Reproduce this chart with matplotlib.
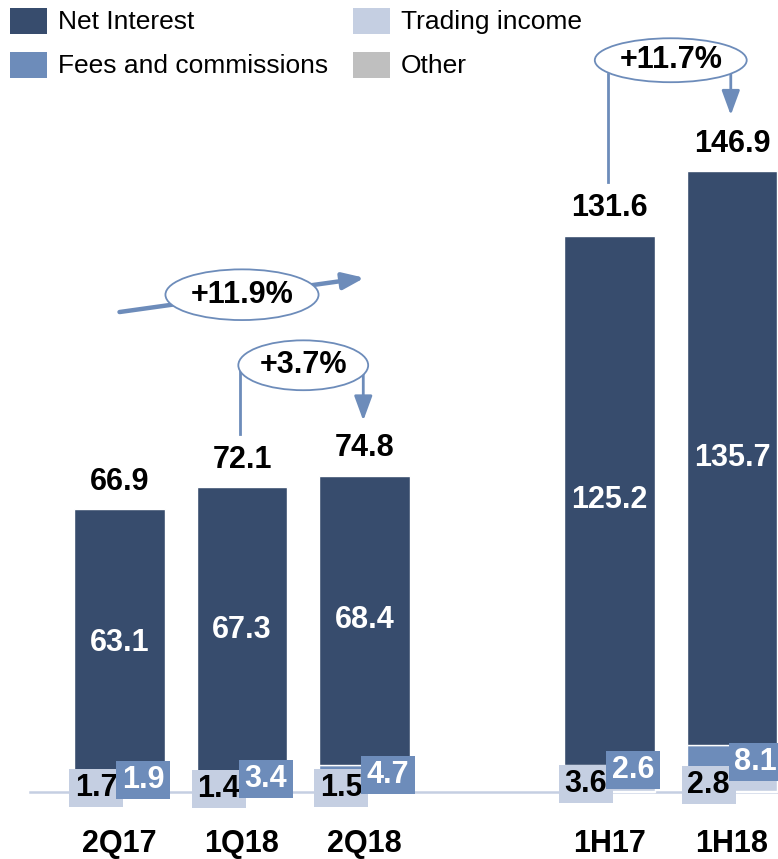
import matplotlib
matplotlib.use("Agg")
import matplotlib.pyplot as plt
from matplotlib.patches import Rectangle, Ellipse
import numpy as np

plt.rcParams['font.family'] = ['Liberation Sans', 'DejaVu Sans']

categories = ["2Q17", "1Q18", "2Q18", "1H17", "1H18"]
positions = [0, 1, 2, 4, 5]
net_interest = [63.1, 67.3, 68.4, 125.2, 135.7]
fees = [1.9, 3.4, 4.7, 2.6, 8.1]
trading = [1.7, 1.4, 1.5, 3.6, 2.8]
totals = [66.9, 72.1, 74.8, 131.6, 146.9]
other = [round(t - n - f - tr, 1) for t, n, f, tr in zip(totals, net_interest, fees, trading)]

legend_labels = ["Net Interest", "Fees and commissions", "Trading income", "Other"]
c_net = "#374c6d"
c_fees = "#6d8cba"
c_trad = "#c5cfe2"
c_other = "#bfbfbf"
colors = [c_net, c_fees, c_trad, c_other]

W, H = 778, 859
fig = plt.figure(figsize=(W / 100, H / 100), dpi=100)
ax = fig.add_axes([0, 0, 1, 1])
px_x = 122.5
px_y = 4.225
ax.set_xlim(-119.5 / px_x, (W - 119.5) / px_x)
ax.set_ylim(-(H - 792) / px_y, 792 / px_y)
ax.axis("off")

bw = 0.74
pos = np.array(positions, dtype=float)
ax.plot([-0.73, 5.5], [0, 0], color=c_trad, lw=1.8, zorder=1)

b_other = np.zeros(len(pos))
b_trad = b_other + np.array(other)
b_fees = b_trad + np.array(trading)
b_net = b_fees + np.array(fees)
ax.bar(pos, other, bw, bottom=b_other, color=c_other, edgecolor="white", lw=1, zorder=2)
ax.bar(pos, trading, bw, bottom=b_trad, color=c_trad, edgecolor="white", lw=1, zorder=2)
ax.bar(pos, fees, bw, bottom=b_fees, color=c_fees, edgecolor="white", lw=1, zorder=2)
ax.bar(pos, net_interest, bw, bottom=b_net, color=c_net, edgecolor="white", lw=1, zorder=2)

fs = 22
for i, p in enumerate(pos):
    # totals
    ax.annotate(f"{totals[i]:.1f}", (p, totals[i]), xytext=(0, 9), textcoords="offset points",
                ha="center", va="bottom", fontsize=fs, fontweight="bold", color="black")
    # net interest
    ax.text(p, b_net[i] + net_interest[i] / 2, f"{net_interest[i]:.1f}", ha="center", va="center",
            fontsize=fs, fontweight="bold", color="white", zorder=3)
    # category
    ax.text(p, -12.2, categories[i], ha="center", va="center", fontsize=fs, fontweight="bold")
    # trading label box
    bx_w, bx_h = 54 / px_x, 38 / px_y
    cy = b_trad[i] + trading[i] / 2
    cx = p - 23.5 / px_x
    ax.add_patch(Rectangle((cx - bx_w / 2, cy - bx_h / 2), bx_w, bx_h, color=c_trad, zorder=4, lw=0))
    ax.text(cx, cy, f"{trading[i]:.1f}", ha="center", va="center", fontsize=fs, fontweight="bold",
            color="black", zorder=5)
    # fees label box
    cy = b_fees[i] + fees[i] / 2
    cx = p + 23.5 / px_x
    ax.add_patch(Rectangle((cx - bx_w / 2, cy - bx_h / 2), bx_w, bx_h, color=c_fees, zorder=6, lw=0))
    ax.text(cx, cy, f"{fees[i]:.1f}", ha="center", va="center", fontsize=fs, fontweight="bold",
            color="white", zorder=7)

acol = c_fees
head = "-|>,head_length=1.5,head_width=0.55"
# +11.9% arrow (2Q17 -> 2Q18)
ax.annotate("", xy=(2.0, 121.7), xytext=(0.0, 113.6),
            arrowprops=dict(arrowstyle="-|>,head_length=1.3,head_width=0.5", color=acol, lw=3.2,
                            shrinkA=0, shrinkB=0), zorder=8)
ax.add_patch(Ellipse((1.0, 117.7), 1.25, 12.0, facecolor="white", edgecolor=acol, lw=1.3, zorder=9))
ax.text(1.0, 117.7, "+11.9%", ha="center", va="center", fontsize=fs, fontweight="bold", zorder=10)

# +3.7% (1Q18 -> 2Q18)
ax.plot([0.985, 0.985], [100.0, 84.7], color=acol, lw=2, zorder=8)
ax.annotate("", xy=(1.99, 87.9), xytext=(1.99, 99.5),
            arrowprops=dict(arrowstyle=head, color=acol, lw=2, shrinkA=0, shrinkB=0), zorder=8)
ax.add_patch(Ellipse((1.5, 101.0), 1.06, 11.8, facecolor="white", edgecolor=acol, lw=1.3, zorder=9))
ax.text(1.5, 101.0, "+3.7%", ha="center", va="center", fontsize=fs, fontweight="bold", zorder=10)

# +11.7% (1H17 -> 1H18)
ax.plot([3.99, 3.99], [170.0, 144.4], color=acol, lw=2, zorder=8)
ax.annotate("", xy=(4.99, 160.2), xytext=(4.99, 170.0),
            arrowprops=dict(arrowstyle=head, color=acol, lw=2, shrinkA=0, shrinkB=0), zorder=8)
ax.add_patch(Ellipse((4.5, 173.2), 1.24, 10.4, facecolor="white", edgecolor=acol, lw=1.3, zorder=9))
ax.text(4.5, 173.2, "+11.7%", ha="center", va="center", fontsize=fs, fontweight="bold", zorder=10)

# legend (figure pixel coordinates)
leg_pos = [(10, 8), (10, 52), (353, 8), (353, 52)]
for (lx, ly), lab, col in zip(leg_pos, legend_labels, colors):
    fig.patches.append(Rectangle((lx / W, 1 - (ly + 26) / H), 37 / W, 26 / H, transform=fig.transFigure,
                                 color=col, lw=0))
    fig.text((lx + 48) / W, 1 - (ly + 14) / H, lab, ha="left", va="center", fontsize=19, color="black")

fig.savefig("out.png", dpi=100)
